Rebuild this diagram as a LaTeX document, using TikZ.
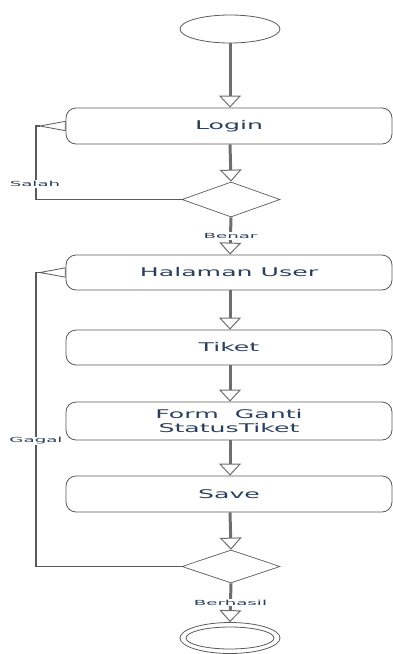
\documentclass[tikz,border=0pt]{standalone}
\usepackage{fontspec}
\usepackage{graphicx}
\setmainfont{DejaVu Sans}
\usetikzlibrary{arrows.meta,shapes.geometric}
\definecolor{txtc}{HTML}{2B3F5C}
\definecolor{edgec}{HTML}{5A5A5A}
\definecolor{flowc}{HTML}{6E6E6E}
\newcommand\widetxt[1]{\scalebox{2.1}[1]{#1}}
\newcommand\widelbl[1]{\scalebox{2.6}[1]{#1}}
\tikzset{
  actbox/.style={draw=edgec, line width=0.8pt, rounded corners=10pt, minimum width=326pt, inner sep=0pt, text=txtc, font=\fontsize{12}{15}\selectfont, align=center},
  decis/.style={draw=edgec, line width=0.7pt, diamond, aspect=2.8, inner sep=0pt},
  startnode/.style={draw=edgec, line width=0.8pt, ellipse, minimum width=100pt, minimum height=28pt, inner sep=0pt},
  flow/.style={draw=flowc, line width=3pt, -{Triangle[length=12pt, width=22pt, fill=white, line width=1pt]}},
  back/.style={draw=edgec, line width=1.2pt, -{Triangle[reversed, length=28pt, width=10pt, fill=white, line width=0.8pt]}},
  lbl/.style={fill=white, inner sep=1pt, text=txtc, font=\fontsize{7}{8}\selectfont}
}
\begin{document}
\begin{tikzpicture}[x=1pt, y=-1pt]
\useasboundingbox (0,0) rectangle (393,654);
\node[startnode] (start) at (230,29) {};
\node[actbox, minimum height=36pt] (login) at (229,126) {\widetxt{Login}};
\node[decis, minimum width=98pt, minimum height=35pt] (d1) at (231,199.5) {};
\node[actbox, minimum height=35pt] (user) at (229,272.5) {\widetxt{Halaman User}};
\node[actbox, minimum height=35pt] (tiket) at (229,347.5) {\widetxt{Tiket}};
\node[actbox, minimum height=38pt] (form) at (229,421) {\widetxt{Form\ \ Ganti}\\[-1pt]\widetxt{StatusTiket}};
\node[actbox, minimum height=36pt] (save) at (229,494) {\widetxt{Save}};
\node[decis, minimum width=98pt, minimum height=33pt] (d2) at (231,566.5) {};
\node[draw=edgec, line width=0.8pt, ellipse, minimum width=100pt, minimum height=31pt, inner sep=0pt] (end) at (230,638) {};
\node[draw=edgec, line width=0.8pt, ellipse, minimum width=88pt, minimum height=22pt, inner sep=0pt] (endin) at (230,638) {};
\coordinate (c1a) at (36,199.5);
\coordinate (c1b) at (36,126);
\coordinate (c2a) at (36,566.5);
\coordinate (c2b) at (36,272.5);

\draw[flow] (start.south -| 230,0) -- (230,0 |- login.north);
\draw[flow] (230,0 |- login.south) -- (d1.north);
\draw[flow] (d1.south) -- (230,0 |- user.north) node[lbl, midway] {\widelbl{Benar}};
\draw[flow] (230,0 |- user.south) -- (230,0 |- tiket.north);
\draw[flow] (230,0 |- tiket.south) -- (230,0 |- form.north);
\draw[flow] (230,0 |- form.south) -- (230,0 |- save.north);
\draw[flow] (230,0 |- save.south) -- (d2.north);
\draw[flow] (d2.south) -- (end.north) node[lbl, midway] {\widelbl{Berhasil}};

\draw[back] (d1.west) -- (c1a) -- (c1b) -- (login.west);
\node[lbl] (salah) at (35,184) {\widelbl{Salah}};
\draw[back] (d2.west) -- (c2a) -- (c2b) -- (user.west);
\node[lbl] (gagal) at (36,441) {\widelbl{Gagal}};
\end{tikzpicture}
\end{document}
